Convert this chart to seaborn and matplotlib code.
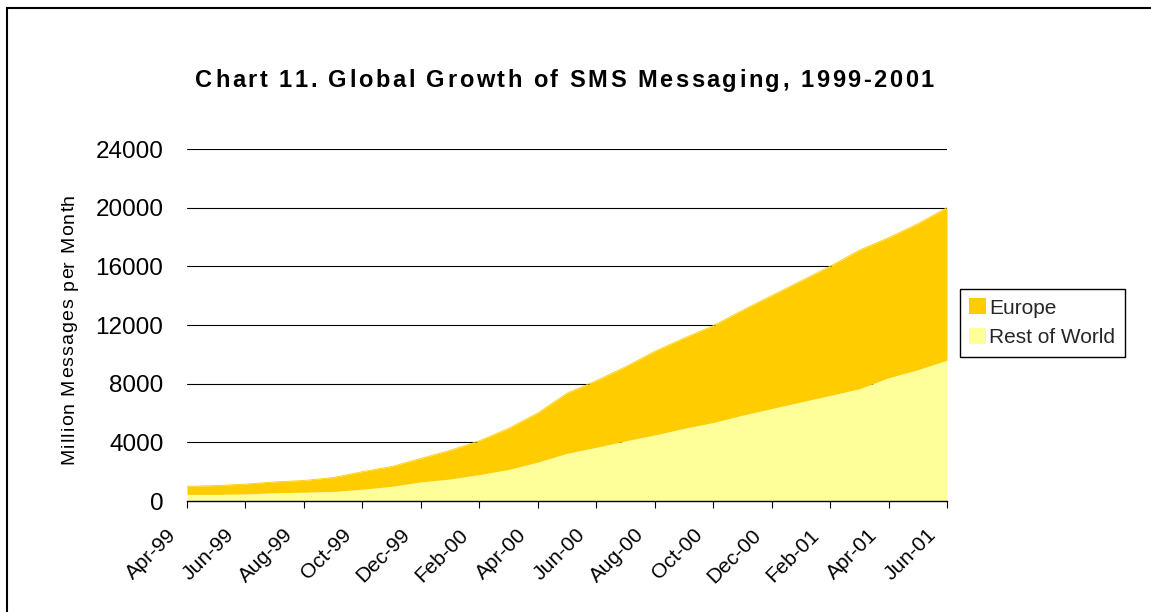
import numpy as np
import pandas as pd
import matplotlib
matplotlib.use("Agg")
import matplotlib.pyplot as plt
import seaborn as sns
from matplotlib import transforms
from matplotlib.patches import Rectangle
from matplotlib.font_manager import FontProperties

# ---------------- data ----------------
months = ["Apr-99", "May-99", "Jun-99", "Jul-99", "Aug-99", "Sep-99", "Oct-99",
          "Nov-99", "Dec-99", "Jan-00", "Feb-00", "Mar-00", "Apr-00", "May-00",
          "Jun-00", "Jul-00", "Aug-00", "Sep-00", "Oct-00", "Nov-00", "Dec-00",
          "Jan-01", "Feb-01", "Mar-01", "Apr-01", "May-01", "Jun-01"]
rest_of_world = [450, 450, 480, 560, 600, 650, 800, 1000, 1300, 1500, 1800, 2150,
                 2650, 3250, 3660, 4100, 4500, 4950, 5350, 5850, 6300, 6750, 7200,
                 7650, 8400, 8950, 9600]
europe = [550, 600, 670, 740, 800, 950, 1200, 1350, 1600, 1950, 2300, 2800, 3350,
          4100, 4540, 5050, 5700, 6150, 6600, 7150, 7700, 8250, 8800, 9450, 9550,
          9950, 10400]
series_names = ["Europe", "Rest of World"]
y_ticks = [0, 4000, 8000, 12000, 16000, 20000, 24000]
y_tick_labels = ["0", "4000", "8000", "12000", "16000", "20000", "24000"]
title = "Chart 11. Global Growth of SMS Messaging, 1999-2001"
y_label = "Million Messages per Month"

# ---------------- style ----------------
sns.set_theme(style="white")
plt.rcParams["font.family"] = ["Liberation Sans", "DejaVu Sans"]

W, H = 1151, 612
fig = plt.figure(figsize=(W / 100, H / 100), dpi=100)
fig.patch.set_facecolor("white")

left, right, top, bottom = 187, 947, 149, 501
ax = fig.add_axes([left / W, 1 - bottom / H, (right - left) / W, (bottom - top) / H])
ax.set_facecolor("white")

df = pd.DataFrame({"idx": np.arange(len(months)),
                   "Rest of World": rest_of_world,
                   "Europe": europe})
df["Total"] = df["Rest of World"] + df["Europe"]

col_europe = "#FFCC00"
col_row = "#FFFF99"

polys = ax.stackplot(df["idx"], df["Rest of World"], df["Europe"],
                     colors=[col_row, col_europe], linewidth=0, zorder=2)
sns.lineplot(data=df, x="idx", y="Total", color=col_europe, lw=0.6, ax=ax,
             zorder=3, legend=False)

ax.set_xlim(0, len(months) - 1)
ax.set_ylim(0, 24000)
ax.set_yticks(y_ticks, labels=y_tick_labels)
ax.set_xticks(df["idx"][::2], labels=months[::2])
ax.set_xlabel("")
ax.set_ylabel("")

ax.yaxis.grid(True, color="black", lw=0.8)
ax.xaxis.grid(False)
ax.set_axisbelow(True)

for s in ["left", "right", "top"]:
    ax.spines[s].set_visible(False)
ax.spines["bottom"].set_color("black")
ax.spines["bottom"].set_linewidth(1.0)
ax.spines["bottom"].set_zorder(5)

ax.tick_params(axis="y", length=0, pad=17, labelsize=17.5, labelcolor="black")
ax.tick_params(axis="x", direction="out", length=5, width=0.8, color="black",
               bottom=True, pad=18, labelsize=15, labelcolor="black")

off = transforms.ScaledTranslation(-14 / 100, 1 / 100, fig.dpi_scale_trans)
for lab in ax.get_xticklabels():
    lab.set_rotation(45)
    lab.set_ha("right")
    lab.set_va("center")
    lab.set_rotation_mode("anchor")
    lab.set_transform(lab.get_transform() + off)

# ---------------- letter-spaced text helper ----------------
renderer = fig.canvas.get_renderer()


def advances(s, fp):
    base = renderer.get_text_width_height_descent("xx", fp, ismath=False)[0]
    return [renderer.get_text_width_height_descent("x" + c + "x", fp, ismath=False)[0] - base
            for c in s]


def ink_width(s, fp):
    return renderer.get_text_width_height_descent(s, fp, ismath=False)[0]


def spaced_text(s, center, baseline, target_len, fp, vertical=False, **kw):
    adv = advances(s, fp)
    natural = ink_width(s, fp)
    gap = (target_len - natural) / (len(s) - 1)
    total = sum(adv) + gap * (len(s) - 1)
    pos = center - total / 2
    for c, a in zip(s, adv):
        mid = pos + a / 2
        if c != " ":
            if vertical:
                fig.text(baseline / W, mid / H, c,
                         rotation=90, rotation_mode="anchor", ha="center",
                         va="baseline", fontproperties=fp, **kw)
            else:
                fig.text(mid / W, 1 - baseline / H, c, ha="center",
                         va="baseline", fontproperties=fp, **kw)
        pos += a + gap


title_fp = FontProperties(family=["Liberation Sans", "DejaVu Sans"],
                          weight="bold", size=17)
spaced_text(title, center=564.5, baseline=87, target_len=737, fp=title_fp,
            color="black")

ylab_fp = FontProperties(family=["Liberation Sans", "DejaVu Sans"], size=14)
# vertical: centre measured from the bottom of the figure
spaced_text(y_label, center=H - 329, baseline=73.5, target_len=270, fp=ylab_fp,
            vertical=True, color="black")

# legend
leg = fig.legend(handles=[polys[1], polys[0]], labels=series_names,
                 loc="upper left", bbox_to_anchor=(960 / W, 1 - 289 / H),
                 frameon=True, fancybox=False, shadow=False, framealpha=1,
                 edgecolor="black", fontsize=15, handlelength=0.8,
                 handleheight=0.8, handletextpad=0.15, borderpad=0.45,
                 labelspacing=0.5, borderaxespad=0)
leg.get_frame().set_linewidth(1.0)

# outer chart border (extends beyond the image on right/bottom)
fig.patches.append(Rectangle((7 / W, -0.5), 2.0, 1.5 - 8 / H,
                             transform=fig.transFigure, fill=False,
                             edgecolor="black", lw=1.5, zorder=10))

fig.savefig("out.png", dpi=100)
